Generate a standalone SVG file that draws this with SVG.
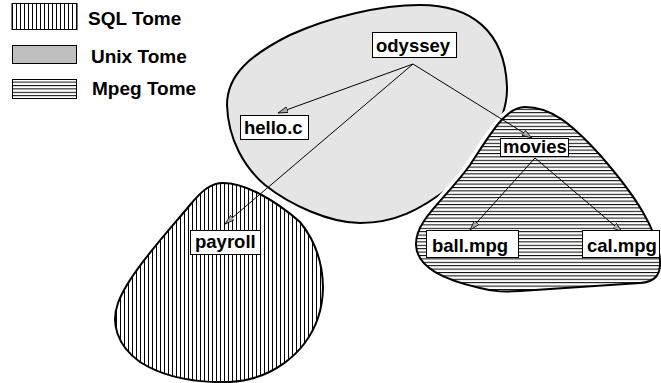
<svg xmlns="http://www.w3.org/2000/svg" width="661" height="383" viewBox="0 0 661 383">
<style>
.lbl{font-family:"Liberation Sans",Arial,sans-serif;font-weight:bold;font-size:18.5px;fill:#000}
.leg{font-family:"Liberation Sans",Arial,sans-serif;font-weight:bold;font-size:19px;fill:#000}
.box{fill:#fff;stroke:#000;stroke-width:1}
.blob{stroke:#000;stroke-width:2}
.con{fill:none;stroke:#000;stroke-width:1;marker-end:url(#ah)}
</style>
<defs>
<pattern id="vert" patternUnits="userSpaceOnUse" width="4" height="4">
<rect width="4" height="4" fill="#fff"/><rect x="0" y="0" width="1" height="4" fill="#000"/>
</pattern>
<pattern id="horz" patternUnits="userSpaceOnUse" width="4" height="3.4">
<rect width="4" height="3.4" fill="#fff"/><rect x="0" y="0" width="4" height="1" fill="#000"/>
</pattern>
<marker id="ah" viewBox="0 0 10 6" refX="10" refY="3" markerWidth="10" markerHeight="6" markerUnits="userSpaceOnUse" orient="auto">
<path d="M0,0 L10,3 L0,6 Z" fill="#aaa" stroke="#000" stroke-width="0.8"/>
</marker>
</defs>
<g id="legend">
<rect x="12" y="3.5" width="65" height="26" fill="url(#vert)" stroke="#000" stroke-width="1"/>
<text class="leg" x="88" y="25">SQL Tome</text>
<rect x="12.5" y="45.5" width="64" height="18" fill="#bfbfbf" stroke="#000" stroke-width="1"/>
<text class="leg" x="91" y="63">Unix Tome</text>
<rect x="12.5" y="79.5" width="64" height="19" fill="url(#horz)" stroke="#000" stroke-width="1"/>
<text class="leg" x="92" y="95">Mpeg Tome</text>
</g>
<g id="unix-tome">
<path class="blob" fill="#e5e5e5" d="M420 5 C470 5,505 30,507 87 C508 120,480 165,450 187 C420 210,395 223,360 223 C330 223,290 205,265 185 C245 168,228 140,227 105 C227 75,250 55,290 35 C330 17,380 5,420 5 Z"/>
</g>
<g id="sql-tome">
<path class="blob" fill="url(#vert)" stroke-width="1.2" d="M223 183 C212 183,203 189,190 205 C165 235,128 275,118 303 C111 322,116 345,140 362 C165 378,195 383,230 382 C270 380,305 355,318 318 C328 288,323 250,300 222 C275 200,245 183,223 183 Z"/>
</g>
<g id="mpeg-tome">
<path fill="none" stroke="#fff" stroke-width="9" d="M525 107 C505 107,490 135,470 165 C445 200,415 220,416 245 C417 268,445 280,480 288 C495 292,505 292,520 291 L640 283 C655 282,661 275,660 260 C658 230,635 195,600 155 C570 122,550 107,525 107 Z"/>
<path class="blob" fill="url(#horz)" d="M525 107 C505 107,490 135,470 165 C445 200,415 220,416 245 C417 268,445 280,480 288 C495 292,505 292,520 291 L640 283 C655 282,661 275,660 260 C658 230,635 195,600 155 C570 122,550 107,525 107 Z"/>
</g>
<g id="connectors">
<line class="con" x1="413" y1="64" x2="278" y2="113"/>
<line class="con" x1="413" y1="64" x2="225" y2="224"/>
<line class="con" x1="413" y1="64" x2="532" y2="138"/>
<line class="con" x1="535" y1="158" x2="470" y2="230"/>
<line class="con" x1="535" y1="158" x2="622" y2="232"/>
</g>
<g id="odyssey"><rect class="box" x="372.5" y="32.5" width="84" height="25"/><text class="lbl" x="376" y="52">odyssey</text></g>
<g id="hello-c"><rect class="box" x="240.5" y="115.5" width="68" height="24"/><text class="lbl" x="244" y="134">hello.c</text></g>
<g id="payroll"><rect class="box" x="190.5" y="230.5" width="70" height="24"/><text class="lbl" x="195" y="248">payroll</text></g>
<g id="movies"><rect class="box" x="500.5" y="138.5" width="68" height="18"/><text class="lbl" x="503" y="153">movies</text></g>
<g id="ball-mpg"><rect class="box" x="426.5" y="230.5" width="92" height="27"/><text class="lbl" x="432" y="252">ball.mpg</text></g>
<g id="cal-mpg"><rect class="box" x="582.5" y="230.5" width="77" height="27"/><text class="lbl" x="587" y="252">cal.mpg</text></g>
</svg>
